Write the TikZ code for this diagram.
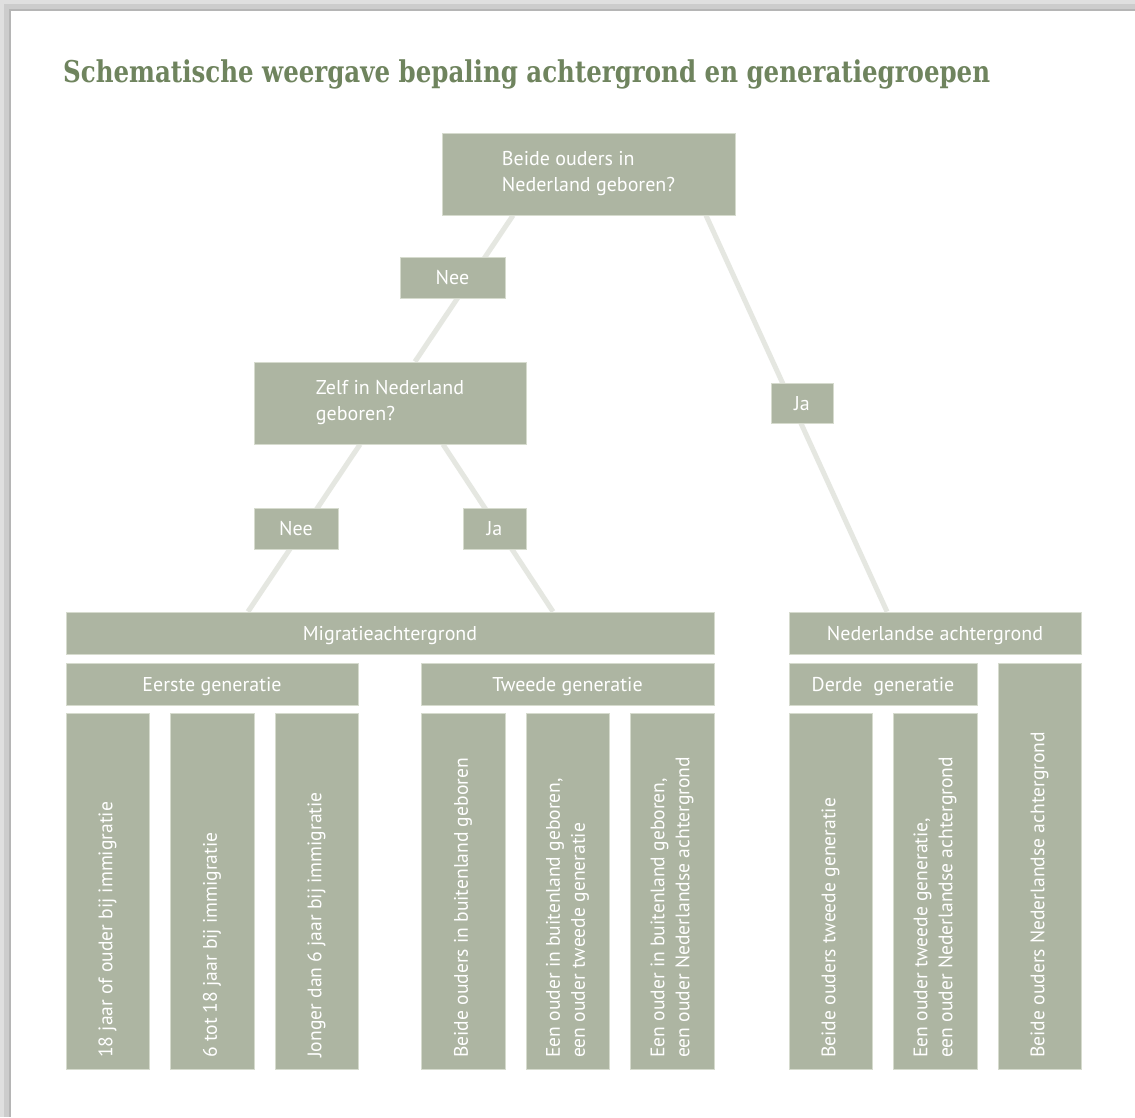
\documentclass[tikz,border=0pt]{standalone}
\usepackage{fontspec}
\setmainfont{PT Sans}
\newfontfamily\titlefont{DejaVu Serif}
\usetikzlibrary{backgrounds}
\pgfdeclarelayer{frame}
\pgfsetlayers{frame,background,main}
\definecolor{boxc}{RGB}{173,181,162}
\definecolor{boxedge}{RGB}{214,219,206}
\definecolor{linec}{RGB}{229,231,225}
\definecolor{titlec}{RGB}{111,132,94}
\newcommand\mybx[7][single]{%
  \node[box,#1,minimum width={(#4-#2)*1pt},minimum height={(#5-#3)*1pt}]
    (#6) at ({(#2+#4)/2},{(#3+#5)/2}) {#7};}
\begin{document}
\begin{tikzpicture}[x=1pt,y=-1pt,
  box/.style={fill=boxc,draw=boxedge,line width=0.8pt,inner sep=0pt,text=white,
    font=\fontsize{20}{26}\selectfont},
  single/.style={text height=14pt,text depth=0pt},
  conn/.style={draw=linec,line width=5pt},
  vtext/.style={rotate=90,anchor=west,inner sep=0pt,align=left,text=white,
    font=\fontsize{19.6}{25}\selectfont}]
\useasboundingbox (0,0) rectangle (1135,1117);
\begin{pgfonlayer}{frame}
  \fill[gray!25] (0,0) rectangle (1135,1117);
  \fill[gray!40] (4,4) rectangle (1135,1117);
  \fill[gray!58] (9,9) rectangle (1135,1117);
  \fill[white] (11,10.5) rectangle (1135,1117);
\end{pgfonlayer}

\node[anchor=base west,inner sep=0pt,text=titlec] (title) at (63,82)
  {\resizebox{927pt}{\height}{\titlefont\bfseries\fontsize{30}{36}\selectfont Schematische weergave bepaling achtergrond en generatiegroepen}};

\mybx[align=left]{442}{133}{735}{215}{b1}{Beide ouders in\\Nederland geboren?}
\mybx{400}{257}{505}{298}{nee1}{Nee}
\mybx[align=left]{254}{362}{526}{444}{zelf}{Zelf in Nederland\\geboren?}
\mybx{771}{383}{833}{423}{ja1}{Ja}
\mybx{254}{508}{338}{549}{nee2}{Nee}
\mybx{463}{508}{526}{549}{ja2}{Ja}
\mybx{66}{612}{714}{654}{mig}{Migratieachtergrond}
\mybx{789}{612}{1081}{654}{ned}{Nederlandse achtergrond}
\mybx{66}{663}{358}{705}{eerste}{Eerste generatie}
\mybx{421}{663}{714}{705}{tweede}{Tweede generatie}
\mybx{789}{663}{977}{705}{derde}{Derde\ \ generatie}
\mybx{66}{713}{149}{1069}{v1}{}
\mybx{170}{713}{254}{1069}{v2}{}
\mybx{275}{713}{358}{1069}{v3}{}
\mybx{421}{713}{505}{1069}{v4}{}
\mybx{526}{713}{609}{1069}{v5}{}
\mybx{630}{713}{714}{1069}{v6}{}
\mybx{789}{713}{872}{1069}{v7}{}
\mybx{893}{713}{977}{1069}{v8}{}
\mybx{998}{663}{1081}{1069}{v9}{}

\node[vtext] (t1) at (v1.center |- 0,1058) {18 jaar of ouder bij immigratie};
\node[vtext] (t2) at (v2.center |- 0,1058) {6 tot 18 jaar bij immigratie};
\node[vtext] (t3) at (v3.center |- 0,1058) {Jonger dan 6 jaar bij immigratie};
\node[vtext] (t4) at (v4.center |- 0,1058) {Beide ouders in buitenland geboren};
\node[vtext] (t5) at (v5.center |- 0,1058) {Een ouder in buitenland geboren,\\een ouder tweede generatie};
\node[vtext] (t6) at (v6.center |- 0,1058) {Een ouder in buitenland geboren,\\een ouder Nederlandse achtergrond};
\node[vtext] (t7) at (v7.center |- 0,1058) {Beide ouders tweede generatie};
\node[vtext] (t8) at (v8.center |- 0,1058) {Een ouder tweede generatie,\\een ouder Nederlandse achtergrond};
\node[vtext] (t9) at (v9.center |- 0,1058) {Beide ouders Nederlandse achtergrond};

\begin{pgfonlayer}{background}
  \draw[conn] ([xshift=-75.5pt]b1.south) -- ([xshift=25pt]zelf.north);
  \draw[conn] ([xshift=117.5pt]b1.south) -- ([xshift=-48pt]ned.north);
  \draw[conn] ([xshift=-30pt]zelf.south) -- ([xshift=-142pt]mig.north);
  \draw[conn] ([xshift=53pt]zelf.south) -- ([xshift=163pt]mig.north);
\end{pgfonlayer}
\end{tikzpicture}
\end{document}
